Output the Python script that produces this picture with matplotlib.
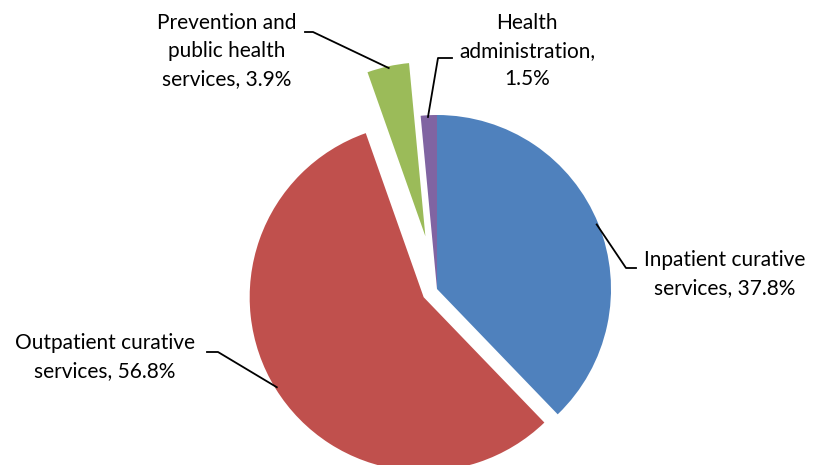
import numpy as np
import matplotlib.pyplot as plt

plt.rcParams['font.family'] = ['Lato', 'DejaVu Sans']

categories = ['Inpatient curative\nservices', 'Outpatient curative\nservices',
              'Prevention and\npublic health\nservices', 'Health\nadministration,\n']
shares = [37.8, 56.8, 3.9, 1.5]
colors = ['#4F81BD', '#C0504D', '#9BBB59', '#8064A2']
explode = [0, 0.09, 0.31, 0]

W, H = 814, 465
CX, CY, R = 437, 289, 174  # pie centre and radius in pixels


def px(x, y):
    # pixel position -> data units (radius = 1)
    return (x - CX) / R, (CY - y) / R


fig = plt.figure(figsize=(W / 100, H / 100), dpi=100)
ax = fig.add_axes([0, 0, 1, 1])
wedges, _ = ax.pie(shares, colors=colors, explode=explode, startangle=90,
                   counterclock=False, radius=1,
                   wedgeprops=dict(linewidth=0))
ax.set_xlim(-CX / R, (W - CX) / R)
ax.set_ylim(-(H - CY) / R, CY / R)
ax.set_aspect('equal')
ax.axis('off')

labels = []
for name, v in zip(categories, shares):
    if name.endswith(',\n'):
        labels.append(f'{name}{v}%')
    else:
        labels.append(f'{name}, {v}%')

# label centres and leader elbows in pixels, angle where leader meets wedge
text_pos = [(725, 274), (105, 357), (227, 51), (527, 51)]
elbows = [[(636, 268), (626, 268)], [(207, 352), (218, 352)],
          [(305, 32), (313, 32)], [(452, 58), (438, 58)]]
edge_angle = [22, 211.5, 102.3, 93]

for w, lab, tp, el, ang in zip(wedges, labels, text_pos, elbows, edge_angle):
    x, y = px(*tp)
    ax.text(x, y, lab, ha='center', va='center', fontsize=15,
            linespacing=1.5, color='black')
    cx, cy = w.center
    ex = cx + 0.99 * np.cos(np.radians(ang))
    ey = cy + 0.99 * np.sin(np.radians(ang))
    pts = [px(*p) for p in el] + [(ex, ey)]
    ax.plot([p[0] for p in pts], [p[1] for p in pts], color='black', lw=1.3)

fig.savefig('out.png', dpi=100)
